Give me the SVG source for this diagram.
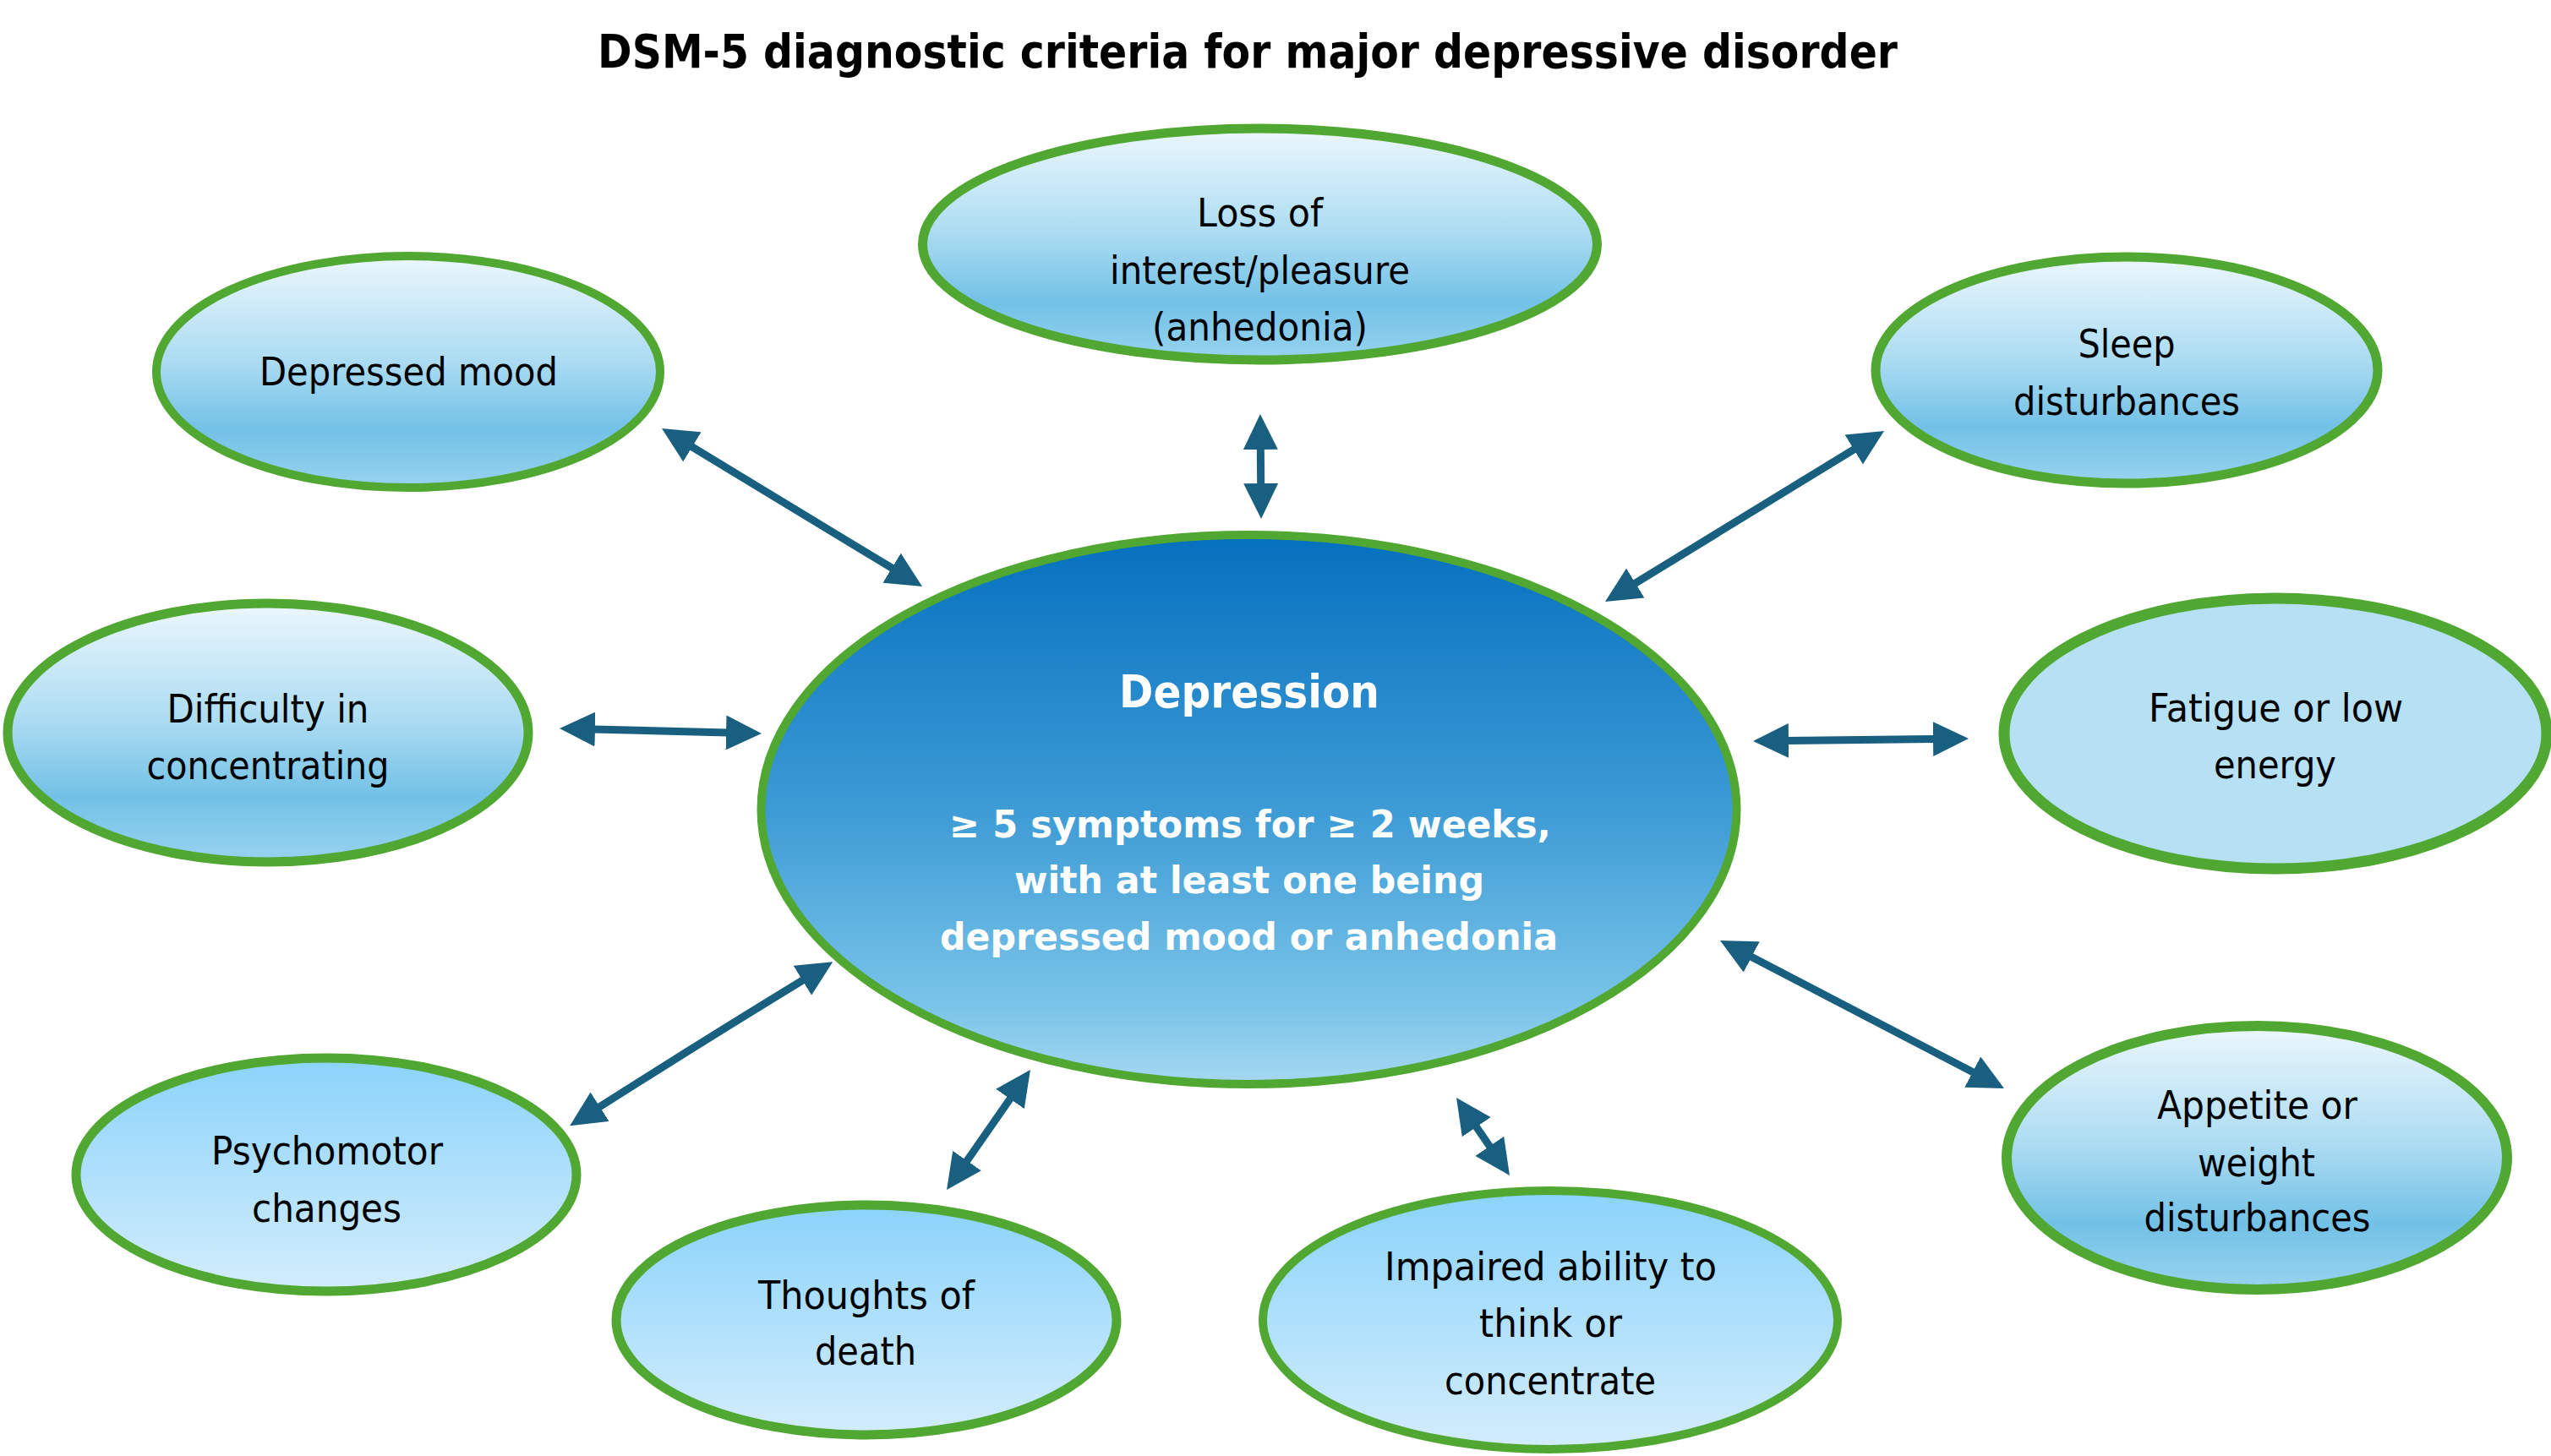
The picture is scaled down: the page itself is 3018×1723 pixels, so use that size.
<svg xmlns="http://www.w3.org/2000/svg" width="3018" height="1723" viewBox="0 0 3018 1723">
<style>
.node ellipse{stroke:#50a731;stroke-width:11}
.lbl{font-family:"DejaVu Sans","Liberation Sans",sans-serif;font-size:47px;fill:#000;text-anchor:middle}
.ctr{font-family:"DejaVu Sans","Liberation Sans",sans-serif;font-weight:bold;font-size:44px;fill:#fff;text-anchor:middle}
.title{font-family:"DejaVu Sans","Liberation Sans",sans-serif;font-weight:bold;font-size:55px;fill:#000;text-anchor:middle}
.conn line,.conn path{fill:none;stroke:#185f80;stroke-width:9;marker-start:url(#ah);marker-end:url(#ah)}
</style>
<defs>
<linearGradient id="gTop" x1="0" y1="0" x2="0" y2="1">
<stop offset="0" stop-color="#ecf7fd"/>
<stop offset="0.45" stop-color="#acdcf2"/>
<stop offset="0.75" stop-color="#72c1e6"/>
<stop offset="1" stop-color="#98d3ef"/>
</linearGradient>
<linearGradient id="gBot" x1="0" y1="0" x2="0" y2="1">
<stop offset="0" stop-color="#8bd3fb"/>
<stop offset="1" stop-color="#d3edfc"/>
</linearGradient>
<linearGradient id="gCtr" x1="0" y1="0" x2="0" y2="1">
<stop offset="0" stop-color="#0570bf"/>
<stop offset="0.5" stop-color="#3d9bd5"/>
<stop offset="0.85" stop-color="#78c3e8"/>
<stop offset="1" stop-color="#a5d8f1"/>
</linearGradient>
<marker id="ah" markerUnits="userSpaceOnUse" viewBox="0 0 42 41" markerWidth="42" markerHeight="41" refX="2" refY="20.5" orient="auto-start-reverse">
<path d="M0,0 L42,20.5 L0,41 Z" fill="#185f80"/>
</marker>
</defs>
<rect width="3018" height="1723" fill="#fff"/>

<text class="title" x="1476" y="80" textLength="1538" lengthAdjust="spacingAndGlyphs">DSM-5 diagnostic criteria for major depressive disorder</text>

<g id="connectors" class="conn">
<line x1="817.2" y1="527.8" x2="1056.8" y2="673.2"/>
<line x1="1491.3" y1="530" x2="1491.7" y2="574"/>
<line x1="2194.9" y1="530.9" x2="1933.1" y2="691.1"/>
<line x1="702" y1="863" x2="861" y2="867"/>
<line x1="2114" y1="876.5" x2="2289" y2="874.5"/>
<path d="M707.9,1310.8 Q835,1230 951.1,1159.2"/>
<line x1="1142.9" y1="1375.2" x2="1196.1" y2="1298.8"/>
<line x1="1745.6" y1="1332" x2="1763.4" y2="1358"/>
<line x1="2070.5" y1="1131.5" x2="2335.5" y2="1269.5"/>
</g>

<g id="depression" class="node">
<ellipse cx="1477.5" cy="958" rx="577" ry="325" fill="url(#gCtr)" style="stroke-width:10"/>
<text class="ctr" x="1478" y="837" style="font-size:53px" textLength="308" lengthAdjust="spacingAndGlyphs">Depression</text>
<text class="ctr" x="1479" y="991" textLength="712" lengthAdjust="spacingAndGlyphs">≥ 5 symptoms for ≥ 2 weeks,</text>
<text class="ctr" x="1478" y="1057" textLength="556" lengthAdjust="spacingAndGlyphs">with at least one being</text>
<text class="ctr" x="1477.5" y="1124" textLength="731" lengthAdjust="spacingAndGlyphs">depressed mood or anhedonia</text>
</g>

<g id="depressed-mood" class="node">
<ellipse cx="483" cy="440" rx="298" ry="137" fill="url(#gTop)" style="stroke-width:10"/>
<text class="lbl" x="483.5" y="456" textLength="353" lengthAdjust="spacingAndGlyphs">Depressed mood</text>
</g>

<g id="loss-of-interest" class="node">
<ellipse cx="1490.5" cy="289" rx="399" ry="137" fill="url(#gTop)"/>
<text class="lbl" x="1490.5" y="268" textLength="149" lengthAdjust="spacingAndGlyphs">Loss of</text>
<text class="lbl" x="1490.5" y="336" textLength="355" lengthAdjust="spacingAndGlyphs">interest/pleasure</text>
<text class="lbl" x="1490.5" y="403" textLength="255" lengthAdjust="spacingAndGlyphs">(anhedonia)</text>
</g>

<g id="sleep" class="node">
<ellipse cx="2516" cy="438" rx="297" ry="134" fill="url(#gTop)"/>
<text class="lbl" x="2516" y="423" textLength="115" lengthAdjust="spacingAndGlyphs">Sleep</text>
<text class="lbl" x="2516" y="491" textLength="268" lengthAdjust="spacingAndGlyphs">disturbances</text>
</g>

<g id="difficulty" class="node">
<ellipse cx="317" cy="867" rx="308" ry="153" fill="url(#gTop)"/>
<text class="lbl" x="317" y="855" textLength="239" lengthAdjust="spacingAndGlyphs">Difficulty  in</text>
<text class="lbl" x="317" y="922" textLength="287" lengthAdjust="spacingAndGlyphs">concentrating</text>
</g>

<g id="fatigue" class="node">
<ellipse cx="2692" cy="868" rx="321" ry="160" fill="#b6e0f3" style="stroke-width:13"/>
<text class="lbl" x="2692.5" y="854" textLength="301" lengthAdjust="spacingAndGlyphs">Fatigue or low</text>
<text class="lbl" x="2691.5" y="921" textLength="145" lengthAdjust="spacingAndGlyphs">energy</text>
</g>

<g id="psychomotor" class="node">
<ellipse cx="386" cy="1390" rx="296" ry="138" fill="url(#gBot)"/>
<text class="lbl" x="387" y="1378" textLength="274" lengthAdjust="spacingAndGlyphs">Psychomotor</text>
<text class="lbl" x="386.5" y="1446" textLength="177" lengthAdjust="spacingAndGlyphs">changes</text>
</g>

<g id="thoughts-of-death" class="node">
<ellipse cx="1025" cy="1562" rx="296" ry="136" fill="url(#gBot)"/>
<text class="lbl" x="1025" y="1549" textLength="256" lengthAdjust="spacingAndGlyphs">Thoughts of</text>
<text class="lbl" x="1024" y="1615" textLength="120" lengthAdjust="spacingAndGlyphs">death</text>
</g>

<g id="impaired" class="node">
<ellipse cx="1834" cy="1562" rx="340" ry="153" fill="url(#gBot)" style="stroke-width:10"/>
<text class="lbl" x="1834.5" y="1515" textLength="393" lengthAdjust="spacingAndGlyphs">Impaired ability to</text>
<text class="lbl" x="1834.5" y="1582" textLength="169" lengthAdjust="spacingAndGlyphs">think or</text>
<text class="lbl" x="1834" y="1650" textLength="250" lengthAdjust="spacingAndGlyphs">concentrate</text>
</g>

<g id="appetite" class="node">
<ellipse cx="2670" cy="1370" rx="296" ry="156" fill="url(#gTop)" style="stroke-width:12"/>
<text class="lbl" x="2670.5" y="1324" textLength="237" lengthAdjust="spacingAndGlyphs">Appetite or</text>
<text class="lbl" x="2669.5" y="1392" textLength="139" lengthAdjust="spacingAndGlyphs">weight</text>
<text class="lbl" x="2670.5" y="1457" textLength="268" lengthAdjust="spacingAndGlyphs">disturbances</text>
</g>
</svg>
